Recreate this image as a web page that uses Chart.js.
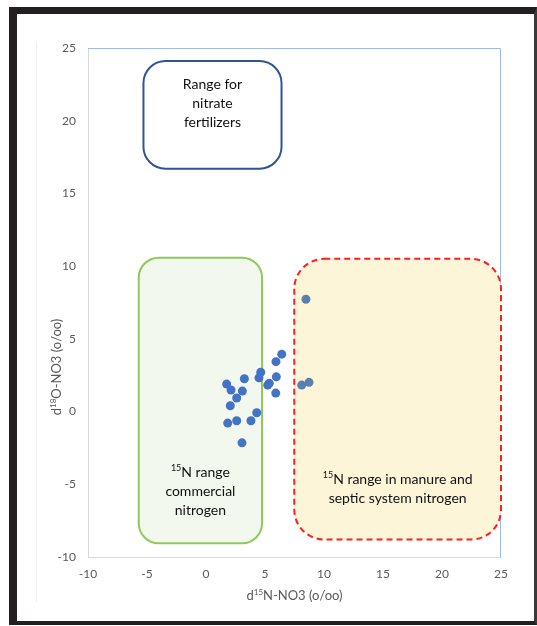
<!DOCTYPE html>
<html>
<head>
<meta charset="utf-8">
<script src="https://cdn.jsdelivr.net/npm/chart.js@4.4.1/dist/chart.umd.min.js"></script>
<style>
  html, body { margin: 0; padding: 0; background: #fff; }
  #wrap { position: relative; width: 537px; height: 626px; }
  #frame { position: absolute; left: 9px; top: 7px; width: 517px; height: 607px;
           border-left: 8px solid #231f20; border-top: 7px solid #231f20;
           border-right: 3px solid #3a3a3a; border-bottom: 4px solid #231f20; pointer-events: none; }
  #linea { position: absolute; left: 36px; top: 42px; width: 1px; height: 560px; background: #efefef; }
  canvas { position: absolute; left: 0; top: 0; }
</style>
</head>
<body>
<div id="wrap">
  <div id="linea"></div>
  <canvas id="grafica" width="537" height="626"></canvas>
  <div id="frame"></div>
</div>
<script>
// datos
const d15N = [6.42, 5.93, 4.64, 4.49, 5.96, 3.25, 1.75, 5.36, 5.23, 2.12, 3.08,
              5.91, 2.60, 2.06, 4.30, 1.84, 2.60, 3.81, 3.05, 8.11, 8.73, 8.47];
const d18O = [3.95, 3.43, 2.70, 2.32, 2.39, 2.26, 1.89, 1.94, 1.82, 1.48, 1.41,
              1.27, 0.93, 0.40, -0.08, -0.79, -0.63, -0.63, -2.15, 1.82, 2.01, 7.72];
const xTicks = [-10, -5, 0, 5, 10, 15, 20, 25];
const yTicks = [-10, -5, 0, 5, 10, 15, 20, 25];

// rangos (en unidades de los ejes)
const rangoFertilizantes = { x: [-5.3, 6.4], y: [16.7, 24.1] };
const rangoComercial = { x: [-5.7, 4.75], y: [-9.06, 10.58] };
const rangoEstiercol = { x: [7.48, 25.0], y: [-8.8, 10.5] };

const textoFertilizantes = [[{ t: "Range for" }], [{ t: "nitrate" }], [{ t: "fertilizers" }]];
const textoComercial = [[{ t: "15", sup: true }, { t: "N range" }], [{ t: "commercial" }], [{ t: "nitrogen" }]];
const textoEstiercol = [[{ t: "15", sup: true }, { t: "N range in manure and" }], [{ t: "septic system nitrogen" }]];
const tituloX = [{ t: "d" }, { t: "15", sup: true }, { t: "N-NO3 (o/oo)" }];
const tituloY = [{ t: "d" }, { t: "18", sup: true }, { t: "O-NO3 (o/oo)" }];

const FUENTE = "Lato, 'Open Sans', sans-serif";

function textoRico(ctx, partes, cx, cy, size, color) {
    const normal = size + "px " + FUENTE;
    const chico = Math.round(size * 0.65) + "px " + FUENTE;
    let ancho = 0;
    partes.forEach(p => {
        ctx.font = p.sup ? chico : normal;
        ancho += ctx.measureText(p.t).width;
    });
    let x = cx - ancho / 2;
    ctx.fillStyle = color;
    ctx.textBaseline = "middle";
    ctx.textAlign = "left";
    partes.forEach(p => {
        ctx.font = p.sup ? chico : normal;
        ctx.fillText(p.t, x, p.sup ? cy - size * 0.3 : cy);
        x += ctx.measureText(p.t).width;
    });
}

function caja(chart, rango, radio, borde, relleno, ancho, guion) {
    const ctx = chart.ctx;
    const sx = chart.scales.x, sy = chart.scales.y;
    const x0 = sx.getPixelForValue(rango.x[0]), x1 = sx.getPixelForValue(rango.x[1]);
    const y0 = sy.getPixelForValue(rango.y[1]), y1 = sy.getPixelForValue(rango.y[0]);
    ctx.save();
    ctx.beginPath();
    ctx.roundRect(x0, y0, x1 - x0, y1 - y0, radio);
    ctx.fillStyle = relleno;
    ctx.fill();
    ctx.lineWidth = ancho;
    ctx.strokeStyle = borde;
    ctx.setLineDash(guion || []);
    ctx.stroke();
    ctx.restore();
    return { cx: (x0 + x1) / 2, x0, x1, y0, y1 };
}

const rangosPlugin = {
    id: "rangos",
    beforeDatasetsDraw(chart) {
        const ctx = chart.ctx;
        const a = chart.chartArea;
        // borde superior y derecho del area
        ctx.save();
        ctx.strokeStyle = "#9dbbe6";
        ctx.lineWidth = 1;
        ctx.beginPath();
        ctx.moveTo(a.left, a.top + 0.5);
        ctx.lineTo(a.right - 0.5, a.top + 0.5);
        ctx.lineTo(a.right - 0.5, a.bottom);
        ctx.stroke();
        ctx.restore();

        const b1 = caja(chart, rangoFertilizantes, 22, "#2f5597", "#ffffff", 2);
        textoFertilizantes.forEach((l, i) => textoRico(ctx, l, b1.cx, b1.y0 + 23 + i * 19, 14, "#111"));
        const b2 = caja(chart, rangoComercial, 20, "#8fc95a", "#f3f8ee", 2);
        textoComercial.forEach((l, i) => textoRico(ctx, l, b2.cx, 472 + i * 19, 14, "#111"));
        const b3 = caja(chart, rangoEstiercol, 30, "#ff1f1f", "#fdf5d8", 2, [6, 4]);
        textoEstiercol.forEach((l, i) => textoRico(ctx, l, b3.cx, 479 + i * 19, 14, "#111"));

        // titulos de ejes
        textoRico(ctx, tituloX, (a.left + a.right) / 2, 596, 13, "#595959");
        ctx.save();
        ctx.translate(57, 367);
        ctx.rotate(-Math.PI / 2);
        textoRico(ctx, tituloY, 0, 0, 13, "#595959");
        ctx.restore();
    }
};

const puntos = d15N.map((x, i) => ({ x: x, y: d18O[i] }));
const colores = puntos.map(p => p.x >= rangoEstiercol.x[0] ? "#5a80b0" : "#4472c4");

const ctx = document.getElementById("grafica").getContext("2d");
new Chart(ctx, {
    type: "scatter",
    data: {
        datasets: [{
            data: puntos,
            pointRadius: 4.5,
            pointBackgroundColor: colores,
            pointBorderWidth: 0
        }]
    },
    options: {
        responsive: false,
        animation: false,
        plugins: { legend: { display: false }, tooltip: { enabled: false } },
        layout: { padding: { left: 0, top: 48, right: 36, bottom: 0 } },
        scales: {
            x: {
                min: -10, max: 25,
                afterBuildTicks: s => { s.ticks = xTicks.map(v => ({ value: v })); },
                afterFit: s => { s.height = 69; },
                grid: { display: false, drawTicks: false },
                border: { color: "#d9d9d9", width: 1 },
                ticks: { color: "#595959", font: { family: FUENTE, size: 12 }, padding: 10 }
            },
            y: {
                min: -10, max: 25,
                afterBuildTicks: s => { s.ticks = yTicks.map(v => ({ value: v })); },
                afterFit: s => { s.width = 88; },
                grid: { display: false, drawTicks: false },
                border: { color: "#d9d9d9", width: 1 },
                ticks: { color: "#595959", font: { family: FUENTE, size: 12 }, padding: 12 }
            }
        }
    },
    plugins: [rangosPlugin]
});
</script>
</body>
</html>
